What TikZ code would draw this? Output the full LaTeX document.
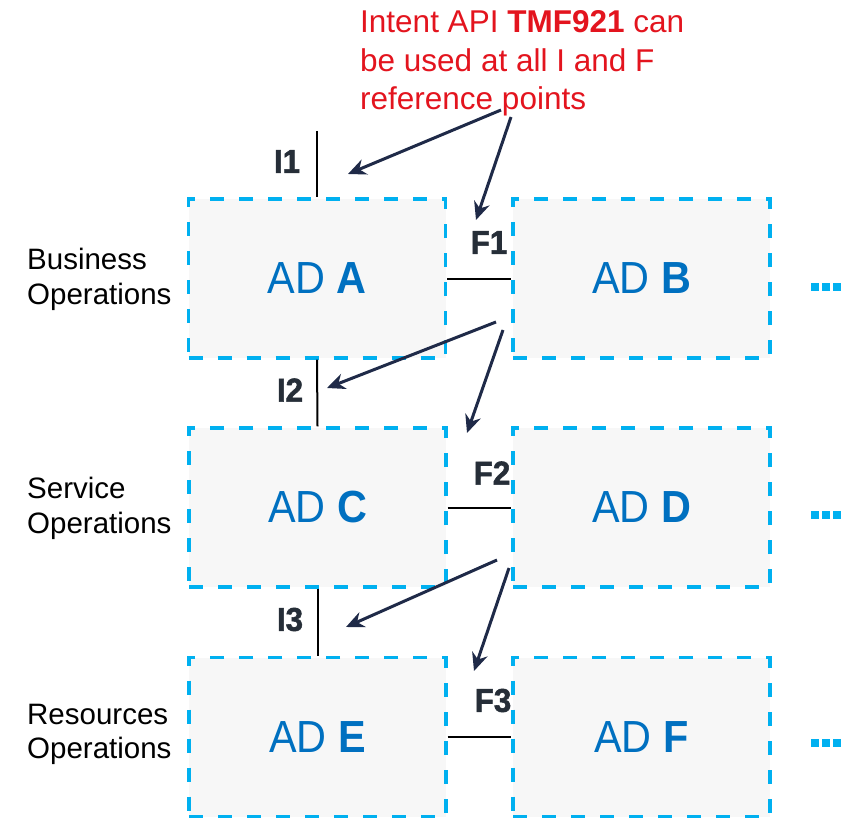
\documentclass[tikz,border=0pt]{standalone}
\usepackage{fontspec}
\setmainfont{Liberation Sans}
\newfontfamily\adfont{Liberation Sans}[FakeStretch=0.92]
\newfontfamily\heavyfont{Liberation Sans Bold}[FakeBold=1.6,FakeStretch=0.95]
\usetikzlibrary{arrows.meta}
\definecolor{boxblue}{HTML}{00B0F0}
\definecolor{adblue}{HTML}{0070C0}
\definecolor{boxfill}{HTML}{F7F7F7}
\definecolor{navy}{HTML}{1F2A48}
\definecolor{intentred}{HTML}{E3141E}
\definecolor{reflabel}{HTML}{262E38}
\begin{document}
\begin{tikzpicture}[x=1pt,y=-1pt,
  adbox/.style={draw=boxblue, line width=3.4pt, dash pattern=on 14pt off 15pt,
    fill=boxfill, minimum width=257pt, minimum height=159pt, inner sep=0pt,
    text=adblue, font=\adfont\fontsize{45}{52}\selectfont},
  refline/.style={draw=black, line width=2pt},
  reflbl/.style={text=reflabel, inner sep=0pt, font=\heavyfont\fontsize{33}{36}\selectfont},
  opslbl/.style={anchor=west, align=left, inner sep=0pt, text=black,
    font=\fontsize{29.5}{34.5}\selectfont},
  pointer/.style={draw=navy, line width=3pt, -{Stealth[length=18pt,width=16pt]}},
  moredots/.style={inner sep=0pt, text=boxblue}
]
\useasboundingbox (0,0) rectangle (859,821);

% boxes
\node[adbox] (A) at (317,278.5) {AD \textbf{A}};
\node[adbox] (B) at (641.5,278.5) {AD \textbf{B}};
\node[adbox] (C) at (317.5,507.5) {AD \textbf{C}};
\node[adbox] (D) at (641.5,507.5) {AD \textbf{D}};
\node[adbox] (E) at (317.5,737) {AD \textbf{E}};
\node[adbox] (F) at (641.5,737) {AD \textbf{F}};

% ellipses
\newcommand{\sq}{\rule{8pt}{8pt}}
\node[moredots] (eB) at (826,287) {\sq\hspace{3pt}\sq\hspace{3pt}\sq};
\node[moredots] (eD) at (826,515) {\sq\hspace{3pt}\sq\hspace{3pt}\sq};
\node[moredots] (eF) at (826,743) {\sq\hspace{3pt}\sq\hspace{3pt}\sq};

% reference point lines
\coordinate (i1top) at (317,131);
\draw[refline] (i1top) -- (A.north);
\draw[refline] (A.south) -- (C.north);
\draw[refline] (C.south) -- (E.north);
\draw[refline] (A.east) -- (B.west);
\draw[refline] (C.east) -- (D.west);
\draw[refline] (E.east) -- (F.west);

% reference point labels
\node[reflbl] (I1) at (287,161.5) {I1};
\node[reflbl] (I2) at (290,390) {I2};
\node[reflbl] (I3) at (290,619.5) {I3};
\node[reflbl] (F1) at (489,242.5) {F1};
\node[reflbl] (F2) at (492,473) {F2};
\node[reflbl] (F3) at (493,700.5) {F3};

% layer labels
\node[opslbl] (bo) at (27,279.5) {Business\\Operations};
\node[opslbl] (so) at (27,508.5) {Service\\Operations};
\node[opslbl] (ro) at (27,734.5) {Resources\\Operations};

% note
\node[anchor=north west, align=left, inner sep=0pt, text=intentred,
  font=\fontsize{31.5}{38.5}\selectfont] (note) at (360,10.5)
  {Intent API \textbf{TMF921} can\\be used at all I and F\\reference points};

% pointer arrows
\coordinate (s1) at (501,110);   \coordinate (t1) at (348,174);
\coordinate (s2) at (511,117);   \coordinate (t2) at (476,220);
\coordinate (s3) at (496,322);   \coordinate (t3) at (327,388);
\coordinate (s4) at (503,330);   \coordinate (t4) at (467,433);
\coordinate (s5) at (497,560);   \coordinate (t5) at (346,627);
\coordinate (s6) at (509,568);   \coordinate (t6) at (474,671);
\draw[pointer] (s1) -- (t1);
\draw[pointer] (s2) -- (t2);
\draw[pointer] (s3) -- (t3);
\draw[pointer] (s4) -- (t4);
\draw[pointer] (s5) -- (t5);
\draw[pointer] (s6) -- (t6);
\end{tikzpicture}
\end{document}
